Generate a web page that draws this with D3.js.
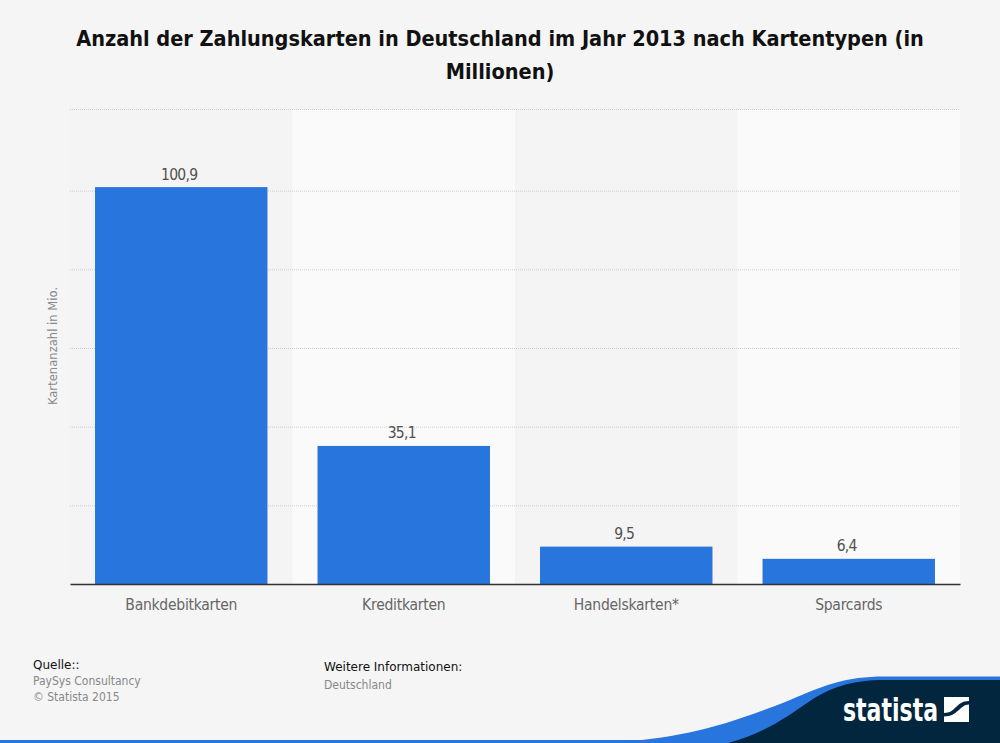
<!DOCTYPE html>
<html>
<head>
<meta charset="utf-8">
<script src="https://cdn.jsdelivr.net/npm/d3@7"></script>
<style>
  html, body { margin: 0; padding: 0; background: #f5f5f5; }
  svg { display: block; }
  text { font-family: "DejaVu Sans Condensed", "DejaVu Sans", sans-serif; }
  .x-axis .domain { stroke: #333; stroke-width: 1.5px; }
  .x-axis line { display: none; }
  .x-axis text { font-size: 15.5px; letter-spacing: -0.25px; fill: #666; }
  .grid .domain { display: none; }
  .grid line { stroke: #cdcdcd; stroke-width: 1px; stroke-dasharray: 1 1; }
  .grid text { display: none; }
</style>
</head>
<body>
<div id="chart"></div>
<script>
var categories = ['Bankdebitkarten', 'Kreditkarten', 'Handelskarten*', 'Sparcards'];
var values = [100.9, 35.1, 9.5, 6.4];
var value_labels = ['100,9', '35,1', '9,5', '6,4'];
var grid_ticks = [20, 40, 60, 80, 100];

var width = 1000, height = 743;
var left = 70, right = 960, top_y = 110, bottom = 584;

var svg = d3.select('#chart').append('svg')
    .attr('width', width)
    .attr('height', height);

var x = d3.scaleBand()
    .domain(categories)
    .range([left, right])
    .paddingInner(0)
    .paddingOuter(0);

var y = d3.scaleLinear()
    .domain([0, 120.5])
    .range([bottom, top_y]);

var bar_width = x.bandwidth() * 0.775;

// alternating column backgrounds
svg.selectAll('.band')
    .data(categories)
    .enter()
    .append('rect')
        .attr('class', 'band')
        .attr('x', function(d) { return x(d); })
        .attr('y', top_y)
        .attr('width', x.bandwidth())
        .attr('height', bottom - top_y)
        .style('fill', function(d, i) { return i % 2 == 0 ? '#f4f4f4' : '#fafafa'; });

// grid lines
svg.append('g')
    .attr('class', 'grid')
    .attr('transform', 'translate(' + left + ',0)')
    .call(d3.axisLeft(y).tickValues(grid_ticks).tickSize(-(right - left)));

// top edge of the plot
svg.append('line')
    .attr('x1', left)
    .attr('x2', right)
    .attr('y1', top_y - 0.5)
    .attr('y2', top_y - 0.5)
    .style('stroke', '#cdcdcd')
    .style('stroke-dasharray', '1 1');

// bars
svg.selectAll('.bar')
    .data(values)
    .enter()
    .append('rect')
        .attr('class', 'bar')
        .attr('x', function(d, i) { return x(categories[i]) + (x.bandwidth() - bar_width) / 2; })
        .attr('y', function(d) { return y(d); })
        .attr('width', bar_width)
        .attr('height', function(d) { return bottom - y(d); })
        .style('fill', '#2875de');

// value labels
svg.selectAll('.value')
    .data(values)
    .enter()
    .append('text')
        .attr('class', 'value')
        .attr('x', function(d, i) { return x(categories[i]) + x.bandwidth() / 2 - 2; })
        .attr('y', function(d) { return y(d) - 7.5; })
        .attr('text-anchor', 'middle')
        .style('font-size', '15.5px')
        .style('letter-spacing', '-0.7px')
        .style('fill', '#505050')
        .text(function(d, i) { return value_labels[i]; });

// x axis
svg.append('g')
    .attr('class', 'x-axis')
    .attr('transform', 'translate(0,' + bottom + ')')
    .call(d3.axisBottom(x).tickSize(0).tickPadding(15));

// y axis title
svg.append('text')
    .attr('transform', 'translate(57,346) rotate(-90)')
    .attr('text-anchor', 'middle')
    .style('font-size', '12.9px')
    .style('fill', '#888')
    .text('Kartenanzahl in Mio.');

// chart title
var title_lines = ['Anzahl der Zahlungskarten in Deutschland im Jahr 2013 nach Kartentypen (in', 'Millionen)'];
svg.selectAll('.title')
    .data(title_lines)
    .enter()
    .append('text')
        .attr('class', 'title')
        .attr('x', 500)
        .attr('y', function(d, i) { return 46 + i * 33; })
        .attr('text-anchor', 'middle')
        .style('font-size', '21.5px')
        .style('font-weight', 'bold')
        .style('fill', '#111')
        .text(function(d) { return d; });

// footer text
function footer(txt, xpos, ypos, colour, family) {
    svg.append('text')
        .attr('x', xpos)
        .attr('y', ypos)
        .style('font-size', '12px')
        .style('font-family', family)
        .style('fill', colour)
        .text(txt);
}
footer('Quelle::', 33, 669, '#111', '"DejaVu Sans"');
footer('PaySys Consultancy', 33, 685, '#888', '"DejaVu Sans Condensed"');
footer('\u00a9 Statista 2015', 33, 701, '#888', '"DejaVu Sans Condensed"');
footer('Weitere Informationen:', 324, 671, '#111', '"DejaVu Sans"');
footer('Deutschland', 324, 689, '#888', '"DejaVu Sans Condensed"');

// bottom ribbon and logo
svg.append('rect')
    .attr('x', 0).attr('y', 740)
    .attr('width', 700).attr('height', 3)
    .style('fill', '#2875de');
svg.append('path')
    .attr('d', 'M610,743 C680,738 720,728 790,700 C825,685 845,676.5 885,676.5 L1000,676.5 L1000,743 Z')
    .style('fill', '#2875de');
svg.append('path')
    .attr('d', 'M728,743 C765,733 785,718 810,701 C830,688 850,680 885,680 L1000,680 L1000,743 Z')
    .style('fill', '#03263f');
svg.append('text')
    .attr('x', 843)
    .attr('y', 721)
    .attr('textLength', 95)
    .attr('lengthAdjust', 'spacingAndGlyphs')
    .style('font-size', '32px')
    .style('font-weight', 'bold')
    .style('fill', '#fff')
    .text('statista');
svg.append('rect')
    .attr('x', 944).attr('y', 697)
    .attr('width', 25).attr('height', 25)
    .style('fill', '#fff');
svg.append('path')
    .attr('d', 'M944,713 C956,713 956,701 969,701 L969,704.5 C960,704.5 958,716.5 944,716.5 Z')
    .style('fill', '#03263f');
</script>
</body>
</html>
